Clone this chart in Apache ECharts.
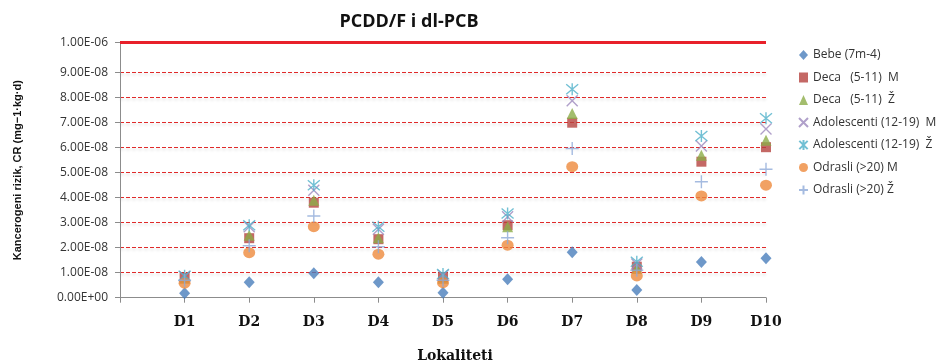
<!DOCTYPE html>
<html>
<head>
<meta charset="utf-8">
<script src="https://cdn.jsdelivr.net/npm/echarts@6/dist/echarts.min.js"></script>
<style>
  html, body { margin: 0; padding: 0; background: #fff; }
  #chart { width: 938px; height: 364px; }
</style>
</head>
<body>
<div id="chart"></div>
<script>
var locs = ['D1', 'D2', 'D3', 'D4', 'D5', 'D6', 'D7', 'D8', 'D9', 'D10'];

// vrednosti x 1e-8
var bebe     = [0.18, 0.62, 0.98, 0.62, 0.20, 0.74, 1.82, 0.31, 1.43, 1.58];
var decaM    = [0.80, 2.38, 3.80, 2.34, 0.82, 2.90, 7.00, 1.24, 5.44, 6.02];
var decaZ    = [0.78, 2.50, 3.90, 2.40, 0.78, 2.84, 7.37, 1.17, 5.70, 6.30];
var adolM    = [0.85, 2.84, 4.30, 2.74, 0.90, 3.24, 7.88, 1.35, 6.07, 6.75];
var adolZ    = [0.88, 2.90, 4.50, 2.84, 0.95, 3.37, 8.34, 1.44, 6.47, 7.18];
var odrasliM = [0.58, 1.80, 2.84, 1.74, 0.60, 2.10, 5.24, 0.87, 4.07, 4.50];
var odrasliZ = [0.70, 2.08, 3.27, 2.04, 0.70, 2.40, 5.97, 1.10, 4.64, 5.14];

var yTickValues = [0, 1e-8, 2e-8, 3e-8, 4e-8, 5e-8, 6e-8, 7e-8, 8e-8, 9e-8, 1.02e-7];
var yTickLabels = ['0.00E+00', '1.00E-08', '2.00E-08', '3.00E-08', '4.00E-08', '5.00E-08',
                   '6.00E-08', '7.00E-08', '8.00E-08', '9.00E-08', '1.00E-06'];
var limitPos = 1.02e-7;  // crvena linija (1.00E-06)

var seriesDefs = [
  { name: 'Bebe (7m-4)', data: bebe, symbol: 'diamond', size: [11, 12], fill: '#4a7ebb' },
  { name: 'Deca   (5-11)  M', data: decaM, symbol: 'rect', size: 10, fill: '#b5423f' },
  { name: 'Deca   (5-11)  Ž', data: decaZ, symbol: 'triangle', size: [11, 11], fill: '#8cad48' },
  { name: 'Adolescenti (12-19)  M', data: adolM, symbol: 'path://M0,0L10,10M10,0L0,10', size: 11, stroke: '#9c88bd' },
  { name: 'Adolescenti (12-19)  Ž', data: adolZ, symbol: 'path://M0,0L10,10M10,0L0,10M5,-1L5,11', size: 12, stroke: '#4fb0c9' },
  { name: 'Odrasli (>20) M', data: odrasliM, symbol: 'circle', size: [12, 11], fill: '#ee8a3c' },
  { name: 'Odrasli (>20) Ž', data: odrasliZ, symbol: 'path://M5,0L5,10M0,5L10,5', size: 13, stroke: '#8eaad8' }
];

var series = seriesDefs.map(function (s, k) {
  var o = {
    name: s.name,
    type: 'scatter',
    symbol: s.symbol,
    symbolSize: s.size,
    data: s.data.map(function (v, i) { return [locs[i], v * 1e-8]; }),
    itemStyle: s.stroke
      ? { color: 'rgba(0,0,0,0)', borderColor: s.stroke, borderWidth: 1.4 }
      : { color: s.fill }
  };
  if (k === 0) {
    o.markLine = {
      silent: true,
      symbol: 'none',
      label: { show: false },
      lineStyle: { color: '#e8202a', width: 3, type: 'solid' },
      data: [[{ coord: ['', limitPos] }, { coord: [locs[locs.length - 1], limitPos] }]]
    };
  }
  return o;
});

var splitColors = yTickValues.map(function (v, i) {
  return (i === 0 || i === yTickValues.length - 1) ? 'rgba(0,0,0,0)' : '#e02a2a';
});

var chart = echarts.init(document.getElementById('chart'));
chart.setOption({
  animation: false,
  title: {
    text: 'PCDD/F i dl-PCB',
    left: 404, top: 8,
    textAlign: 'center',
    textStyle: { fontFamily: 'Open Sans', fontWeight: 'bold', fontSize: 18, color: '#111' }
  },
  legend: {
    orient: 'vertical',
    left: 798, top: 49,
    padding: 0,
    itemWidth: 9, itemHeight: 10, itemGap: 10.5,
    textStyle: { fontFamily: 'Open Sans', fontSize: 12, color: '#333' },
    data: seriesDefs.map(function (s) { return s.name; })
  },
  grid: { left: 120, right: 172, top: 42.7, bottom: 66.3, outerBoundsMode: 'none' },
  xAxis: {
    type: 'category',
    boundaryGap: false,
    data: [''].concat(locs),
    axisLine: { lineStyle: { color: '#8c8c8c' } },
    axisTick: { interval: 0, length: 5, lineStyle: { color: '#8c8c8c' } },
    axisLabel: {
      interval: 0, margin: 18,
      fontFamily: 'DejaVu Serif', fontWeight: 'bold', fontSize: 14, color: '#111'
    },
    name: 'Lokaliteti',
    nameLocation: 'middle',
    nameGap: 52,
    nameTextStyle: {
      fontFamily: 'DejaVu Serif', fontWeight: 'bold', fontSize: 14, color: '#111',
      padding: [0, 0, 0, 24]
    },
    splitLine: { show: false }
  },
  yAxis: {
    type: 'value',
    min: 0,
    max: limitPos,
    axisLine: { show: true, lineStyle: { color: '#8c8c8c' } },
    axisTick: { show: true, length: 5, customValues: yTickValues, lineStyle: { color: '#8c8c8c' } },
    axisLabel: {
      customValues: yTickValues,
      margin: 12,
      fontFamily: 'Open Sans', fontSize: 12, color: '#333',
      formatter: function (v) {
        var best = 0;
        for (var i = 1; i < yTickValues.length; i++) {
          if (Math.abs(yTickValues[i] - v) < Math.abs(yTickValues[best] - v)) best = i;
        }
        return yTickLabels[best];
      }
    },
    splitLine: {
      show: true,
      lineStyle: {
        color: splitColors, type: [4, 2], width: 1,
        shadowColor: 'rgba(0,0,0,0.18)', shadowBlur: 3, shadowOffsetY: 2
      }
    },
    name: 'Kancerogeni rizik, CR (mg−1·kg·d)',
    nameLocation: 'middle',
    nameGap: 97,
    nameTextStyle: { fontFamily: 'Liberation Sans', fontWeight: 'bold', fontSize: 11, color: '#111' }
  },
  series: series
});
</script>
</body>
</html>
